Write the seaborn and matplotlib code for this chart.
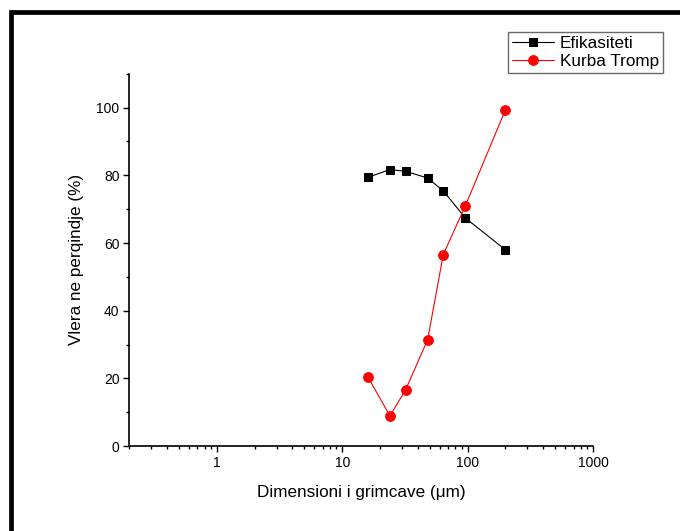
import pandas as pd
import seaborn as sns
import matplotlib.pyplot as plt
from matplotlib.ticker import MultipleLocator, FixedLocator, LogLocator, NullFormatter
from matplotlib.patches import Rectangle

# data
size_um = [16, 24, 32, 48, 64, 96, 200]
efikasiteti = [79.4, 81.7, 81.2, 79.2, 75.4, 67.4, 58.0]
kurba_tromp = [20.5, 8.9, 16.6, 31.4, 56.6, 71.0, 99.3]

df = pd.DataFrame({"size": size_um, "eff": efikasiteti, "tromp": kurba_tromp})

sns.set_style("ticks")
plt.rcParams["font.family"] = ["Liberation Sans", "DejaVu Sans"]

fig = plt.figure(figsize=(6.8, 5.31), dpi=100)
ax = fig.add_axes([0.19, 0.16, 0.682, 0.701])

sns.lineplot(data=df, x="size", y="eff", ax=ax, color="black", lw=0.8,
             marker="s", markersize=6, markeredgecolor="black",
             markerfacecolor="black", label="Efikasiteti")
sns.lineplot(data=df, x="size", y="tromp", ax=ax, color="red", lw=0.8,
             marker="o", markersize=7, markeredgecolor="red",
             markerfacecolor="red", label="Kurba Tromp")

ax.set_xscale("log")
ax.set_xlim(0.2, 1000)
ax.set_ylim(0, 110)
ax.xaxis.set_major_locator(FixedLocator([1, 10, 100, 1000]))
ax.set_xticklabels(["1", "10", "100", "1000"])
ax.xaxis.set_minor_locator(LogLocator(base=10, subs=range(2, 10), numticks=20))
ax.xaxis.set_minor_formatter(NullFormatter())
ax.yaxis.set_major_locator(FixedLocator([0, 20, 40, 60, 80, 100]))
ax.yaxis.set_minor_locator(MultipleLocator(10))

for s in ["top", "right"]:
    ax.spines[s].set_visible(False)
for s in ["left", "bottom"]:
    ax.spines[s].set_linewidth(1.2)
    ax.spines[s].set_color("black")
ax.tick_params(which="major", direction="out", length=4, width=1, labelsize=10,
               pad=3, color="black", labelcolor="black")
ax.tick_params(which="minor", direction="out", length=2.5, width=1, color="black")

ax.set_xlabel("Dimensioni i grimcave (μm)", fontsize=12.3, labelpad=11, color="black")
ax.set_ylabel("Vlera ne perqindje (%)", fontsize=12.3, labelpad=9, color="black")

leg = ax.legend(loc="upper right", bbox_to_anchor=(0.975, 0.94),
                bbox_transform=fig.transFigure, fontsize=12.3, frameon=True,
                fancybox=False, handlelength=2.5, handletextpad=0.3,
                borderpad=0.25, labelspacing=0.15, borderaxespad=0)
leg.get_frame().set_edgecolor("#444444")
leg.get_frame().set_linewidth(1)
for t in leg.get_texts():
    t.set_color("black")

# thick outer frame, clipped at right and bottom like the reference
fig.patches.append(Rectangle((10.5 / 680, -0.1), 1.2, 1 - 12 / 531 + 0.1,
                             transform=fig.transFigure, fill=False,
                             edgecolor="black", lw=3.4))

fig.savefig("out.png", dpi=100)
